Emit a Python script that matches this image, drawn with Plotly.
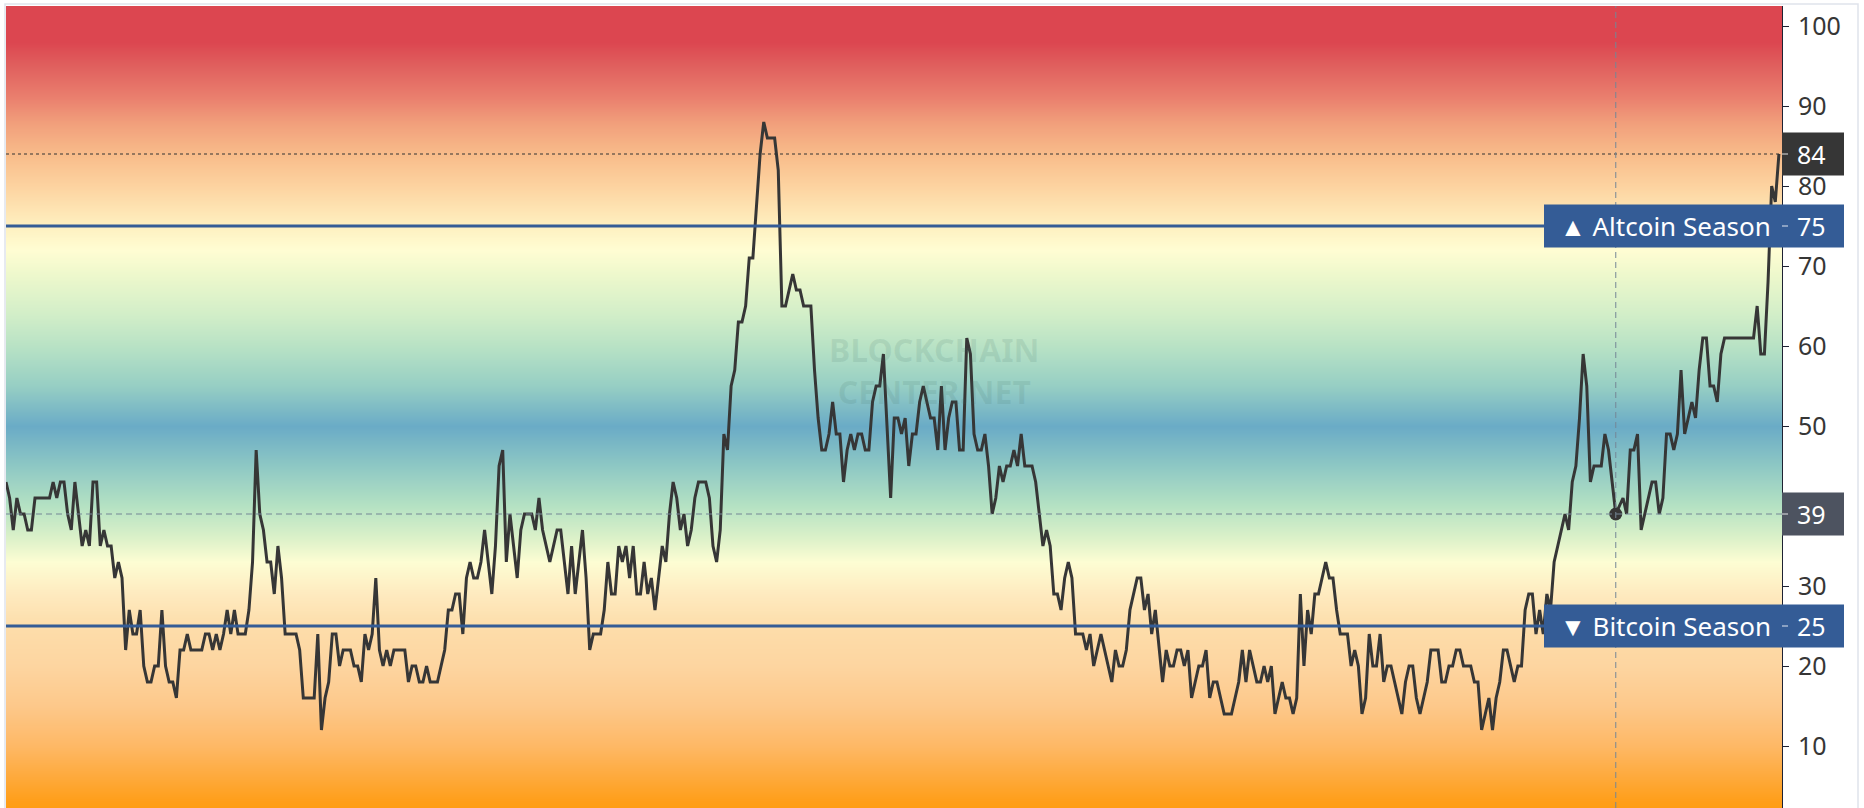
import plotly.graph_objects as go

# ---------------- data (Altcoin Season Index, daily) ----------------
seg_1 = [43, 41, 37, 41, 39, 39, 37, 37, 41, 41,
         41, 41, 41, 43, 41, 43, 43, 39, 37, 43,
         39, 35, 37, 35, 43, 43, 35, 37, 35, 35,
         31, 33, 31, 22, 27, 24, 24, 27, 20, 18,
         18, 20, 20, 27, 20, 18, 18, 16, 22, 22,
         24, 22, 22, 22, 22, 24, 24, 22, 24, 22,
         24, 27, 24, 27, 24, 24, 24, 27, 33, 47,
         39, 37, 33, 33, 29, 35, 31, 24, 24, 24,
         24, 22]
seg_2 = [16, 16, 16, 16, 24, 12, 16, 18, 24, 24,
         20, 22, 22, 22, 20, 20, 18, 24, 22, 24,
         31, 22, 20, 22, 20, 22, 22, 22, 22, 18,
         20, 20, 18, 18, 20, 18, 18, 18, 20, 22,
         27, 27, 29, 29, 24, 31, 33, 31, 31, 33,
         37, 33, 29, 35, 45, 47, 33, 39, 35, 31,
         37, 39, 39, 39, 37, 41, 37, 35, 33, 35,
         37, 37, 33, 29, 35, 29, 33, 37, 31, 22,
         24, 24, 24]
seg_3 = [27, 33, 29, 29, 35, 33, 35, 31, 35, 29,
         29, 33, 29, 31, 27, 31, 35, 33, 39, 43,
         41, 37, 39, 35, 37, 41, 43, 43, 43, 41,
         35, 33, 37, 49, 47, 55, 57, 63, 63, 65,
         71, 71, 77, 84, 88, 86, 86, 86, 82, 65,
         65, 67, 69, 67, 67, 65, 65, 65, 57, 51,
         47, 47, 49, 53, 49, 49, 43, 47, 49, 47,
         49, 49, 47, 47, 53, 55, 55, 59, 50, 41,
         51, 51]
seg_4 = [49, 51, 45, 49, 49, 53, 55, 53, 51, 51,
         47, 55, 47, 51, 53, 53, 47, 47, 61, 59,
         49, 47, 47, 49, 45, 39, 41, 45, 43, 45,
         45, 47, 45, 49, 45, 45, 45, 43, 39, 35,
         37, 35, 29, 29, 27, 31, 33, 31, 24, 24,
         24, 22, 24, 20, 22, 24, 22, 20, 18, 22,
         20, 20, 22, 27, 29, 31, 31, 27, 29, 24,
         27, 22, 18, 22, 20, 20, 22, 22, 20, 22,
         16, 18, 20, 20]
seg_5 = [22, 16, 18, 18, 16, 14, 14, 14, 16, 18,
         22, 18, 22, 20, 18, 18, 20, 18, 20, 14,
         16, 18, 16, 16, 14, 16, 29, 20, 27, 24,
         29, 29, 31, 33, 31, 31, 27, 24, 24, 24,
         20, 22, 20, 14, 16, 24, 20, 20, 24, 18,
         20, 20, 18, 16, 14, 18, 20, 20, 16, 14,
         16, 18, 22, 22, 22, 18, 18, 20, 20, 22,
         22, 20, 20, 20, 18, 18, 12, 14, 16, 12,
         16, 18, 22]
seg_6 = [22, 20, 18, 20, 20, 27, 29, 29, 24, 27,
         24, 29, 27, 33, 35, 37, 39, 37, 43, 45,
         51, 59, 55, 43, 45, 45, 45, 49, 47, 43,
         39, 40, 41, 39, 47, 47, 49, 37, 39, 41,
         43, 43, 39, 41, 49, 49, 47, 49, 57, 49,
         51, 53, 51, 57, 61, 61, 55, 55, 53, 59,
         61, 61, 61, 61, 61, 61, 61, 61, 61, 65,
         59, 59, 68, 80, 78, 84]

index_values = seg_1 + seg_2 + seg_3 + seg_4 + seg_5 + seg_6
days = list(range(len(index_values)))

altcoin_level = 75
bitcoin_level = 25
hover_day = 444          # crosshair position
hover_value = index_values[hover_day]
last_value = index_values[-1]
y_ticks = [10, 20, 30, 50, 60, 70, 80, 90, 100]   # 40 sits under the 39 label

# ---------------- layout geometry ----------------
W, H = 1864, 808
L_PX, R_PX = 6, 1782
T_PX, B_PX = 6, 808
PW = R_PX - L_PX
PH = B_PX - T_PX
Y_MIN, Y_MAX = 2.25, 102.5
X_MAX = len(index_values) - 1 + 0.85


def pxx(p):
    return (p - L_PX) / PW


def pxy(p):
    return (B_PX - p) / PH


def val_to_paper(v):
    return (v - Y_MIN) / (Y_MAX - Y_MIN)


FONT = "Noto Sans"

# background gradient stops (value, colour)
grad_stops = [
    (0, "#FF9A05"), (3, "#FF9E18"), (6, "#FEA93A"), (10, "#FEB865"),
    (15, "#FDC88A"), (20, "#FDD5A0"), (25, "#FDDDAA"), (29, "#FEEABF"),
    (33, "#FDFDD3"), (36, "#DCF1C9"), (40, "#B5E2C3"), (45, "#8EC8C4"),
    (50, "#6AABC6"), (55, "#96CEC4"), (60, "#B8E2C5"), (64, "#D2EEC8"),
    (69, "#EEF8CC"), (72, "#FFFDD3"), (75, "#FEF0C0"), (80, "#FDD3A0"),
    (84, "#F8BC8A"), (88, "#F19E7B"), (91, "#EA806E"), (95, "#E0605E"),
    (98, "#DC4650"), (105, "#DC4650"),
]
colorscale = [[v / 105, c] for v, c in grad_stops]
grid_y = [k * 0.25 for k in range(0, 421)]

fig = go.Figure()

fig.add_trace(go.Heatmap(
    x=[-10, X_MAX + 10], y=grid_y, z=[[gy, gy] for gy in grid_y],
    colorscale=colorscale, zmin=0, zmax=105, showscale=False,
    zsmooth="best", hoverinfo="skip"))

fig.add_trace(go.Scatter(
    x=days, y=index_values, mode="lines",
    line=dict(color="#363636", width=3), hoverinfo="skip"))

fig.add_trace(go.Scatter(
    x=[hover_day], y=[hover_value], mode="markers",
    marker=dict(color="#363636", size=13), hoverinfo="skip"))

shapes = [
    dict(type="line", xref="x", yref="y", x0=0, x1=X_MAX, y0=altcoin_level, y1=altcoin_level,
         line=dict(color="#345C96", width=2.8)),
    dict(type="line", xref="x", yref="y", x0=0, x1=X_MAX, y0=bitcoin_level, y1=bitcoin_level,
         line=dict(color="#345C96", width=2.8)),
    dict(type="line", xref="x", yref="y", x0=0, x1=X_MAX, y0=last_value, y1=last_value,
         line=dict(color="#333333", width=1, dash="dot")),
    dict(type="line", xref="x", yref="y", x0=0, x1=X_MAX, y0=hover_value, y1=hover_value,
         line=dict(color="#758696", width=1, dash="6px,4px")),
    dict(type="line", xref="x", yref="y", x0=hover_day, x1=hover_day, y0=Y_MIN, y1=Y_MAX,
         line=dict(color="#758696", width=1, dash="6px,4px")),
    dict(type="rect", xref="paper", yref="paper", x0=pxx(5), x1=pxx(1858), y0=-0.05, y1=pxy(4),
         line=dict(color="#E0E3EB", width=1.5), fillcolor="rgba(0,0,0,0)", layer="below"),
]

annotations = []
BOX_H = 43 / PH   # box height in paper units


def box(x0, x1, yv, color):
    yc = val_to_paper(yv)
    shapes.append(dict(
        type="rect", xref="paper", yref="paper", x0=pxx(x0), x1=pxx(x1),
        y0=yc - BOX_H / 2, y1=yc + BOX_H / 2, fillcolor=color, line=dict(width=0),
        layer="above"))
    shapes.append(dict(
        type="line", xref="paper", yref="paper", x0=pxx(1782), x1=pxx(1788),
        y0=yc, y1=yc, line=dict(color="rgba(255,255,255,0.85)", width=1), layer="above"))


def label(xp, yv, txt, size=26):
    annotations.append(dict(
        xref="paper", yref="y", x=pxx(xp), y=yv, xanchor="left", yanchor="middle",
        text=txt, showarrow=False, font=dict(family=FONT, size=size, color="white")))


LBL_X = 1795

box(1544, 1844, altcoin_level, "#345C96")
label(1558, altcoin_level, "▲ Altcoin Season")
label(LBL_X, altcoin_level, str(altcoin_level), 25)

box(1544, 1844, bitcoin_level, "#345C96")
label(1558, bitcoin_level, "▼ Bitcoin Season")
label(LBL_X, bitcoin_level, str(bitcoin_level), 25)

box(1782, 1844, last_value, "#363636")
label(LBL_X, last_value, str(last_value), 25)

box(1782, 1844, hover_value, "#4D5360")
label(LBL_X, hover_value, str(hover_value), 25)

# watermark (one two-line text)
annotations.append(dict(
    xref="paper", yref="y", x=pxx(934), y=56.9, xanchor="center", yanchor="middle",
    text="<b>BLOCKCHAIN<br>CENTER.NET</b>", showarrow=False, align="center",
    font=dict(family=FONT, size=32, color="rgba(60,105,95,0.12)")))

fig.update_layout(
    width=W, height=H,
    margin=dict(l=L_PX, r=W - R_PX, t=T_PX, b=H - B_PX, pad=0),
    paper_bgcolor="white", plot_bgcolor="white",
    showlegend=False,
    shapes=shapes, annotations=annotations,
    xaxis=dict(visible=False, range=[0, X_MAX], fixedrange=True),
    yaxis=dict(side="right", range=[Y_MIN, Y_MAX], tickvals=y_ticks,
               showgrid=False, zeroline=False, showline=True,
               linecolor="#1E2233", linewidth=1,
               ticks="outside", ticklen=6, tickcolor="#1E2233",
               ticklabelstandoff=4, fixedrange=True,
               tickfont=dict(family=FONT, size=25, color="#363636")),
)

fig.write_html("out.html", config={"displayModeBar": False},
               post_script="document.body.style.margin='0px';")
